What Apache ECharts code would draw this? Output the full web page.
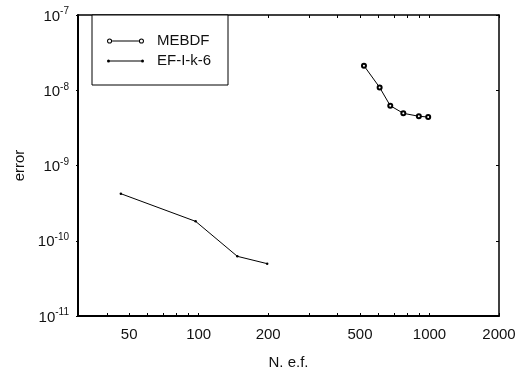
<!DOCTYPE html>
<html><head><meta charset="utf-8">
<script src="https://cdn.jsdelivr.net/npm/echarts@6/dist/echarts.min.js"></script>
<style>html,body{margin:0;padding:0;background:#fff}#c{width:515px;height:379px}</style>
</head><body><div id="c"></div>
<script>
const seriesNames = ['MEBDF', 'EF-I-k-6'];
const nefMEBDF = [520, 608, 676, 770, 899, 987];
const errMEBDF = [2.12e-8, 1.09e-8, 6.23e-9, 4.94e-9, 4.51e-9, 4.41e-9];
const nefEF = [46, 97, 147, 198];
const errEF = [4.22e-10, 1.81e-10, 6.21e-11, 4.96e-11];
const xLabelValues = [50, 100, 200, 500, 1000, 2000];
const xTickValues = [30, 40, 50, 60, 70, 80, 90, 100, 200, 300, 400, 500, 600, 700, 800, 900, 1000, 2000];
const xRange = [30, 2000];
const yRange = [1e-11, 1e-7];

const FONT = 'Liberation Sans';
const TXT = '#111';
const lg = v => Math.log10(v);
const chart = echarts.init(document.getElementById('c'), null, {renderer: 'canvas'});

const iconMEBDF = 'path://M0.5,3 A2.5,2.5 0 1,1 5.5,3 A2.5,2.5 0 1,1 0.5,3 Z M1.5,3 A1.5,1.5 0 1,0 4.5,3 A1.5,1.5 0 1,0 1.5,3 Z M5.5,2.5 L31.5,2.5 L31.5,3.5 L5.5,3.5 Z M31.5,3 A2.5,2.5 0 1,1 36.5,3 A2.5,2.5 0 1,1 31.5,3 Z M32.5,3 A1.5,1.5 0 1,0 35.5,3 A1.5,1.5 0 1,0 32.5,3 Z';
const iconEF = 'path://M0,3 A1.5,1.5 0 1,1 3,3 A1.5,1.5 0 1,1 0,3 Z M1.5,2.5 L35.5,2.5 L35.5,3.5 L1.5,3.5 Z M34,3 A1.5,1.5 0 1,1 37,3 A1.5,1.5 0 1,1 34,3 Z';

const axisLineBlack = w => ({show: true, onZero: false, lineStyle: {color: '#000', width: w}});

const option = {
  animation: false,
  backgroundColor: '#fff',
  grid: {left: 78, right: 16, top: 15, bottom: 63, containLabel: false, outerBoundsMode: 'none'},
  legend: {
    left: 92, top: 15, orient: 'vertical',
    padding: [18, 11, 16, 15], itemGap: 4, itemWidth: 37, itemHeight: 6,
    borderColor: '#000', borderWidth: 1, backgroundColor: '#fff',
    selectedMode: false,
    itemStyle: {color: '#000', borderWidth: 0},
    textStyle: {fontFamily: FONT, fontSize: 15, color: TXT, width: 60, lineHeight: 16, padding: [0, 0, 0, 8]},
    data: [{name: seriesNames[0], icon: iconMEBDF}, {name: seriesNames[1], icon: iconEF}]
  },
  xAxis: [
    {
      type: 'log', logBase: 10, min: xRange[0], max: xRange[1], position: 'bottom',
      axisLine: axisLineBlack(2), axisTick: {show: false}, axisLabel: {show: false},
      splitLine: {show: false}, minorTick: {show: false}, minorSplitLine: {show: false},
      name: 'N. e.f.', nameLocation: 'middle', nameGap: 39,
      nameTextStyle: {fontFamily: FONT, fontSize: 15, color: TXT}
    },
    {
      type: 'value', min: lg(xRange[0]), max: lg(xRange[1]), position: 'bottom',
      axisLine: {show: false, onZero: false}, splitLine: {show: false},
      axisTick: {show: true, inside: true, length: 3, customValues: xTickValues.map(lg), lineStyle: {color: '#000', width: 1}},
      axisLabel: {show: true, margin: 11, customValues: xLabelValues.map(lg),
        formatter: v => String(Math.round(Math.pow(10, v))),
        fontFamily: FONT, fontSize: 15, color: TXT}
    },
    {
      type: 'value', min: lg(xRange[0]), max: lg(xRange[1]), position: 'top',
      axisLine: axisLineBlack(1.5), splitLine: {show: false},
      axisTick: {show: true, inside: true, length: 3, customValues: xTickValues.map(lg), lineStyle: {color: '#000', width: 1}},
      axisLabel: {show: false}
    }
  ],
  yAxis: [
    {
      type: 'log', logBase: 10, min: yRange[0], max: yRange[1], position: 'left',
      axisLine: axisLineBlack(2), splitLine: {show: false}, minorTick: {show: false},
      axisTick: {show: true, inside: false, length: 2, lineStyle: {color: '#000', width: 1}},
      axisLabel: {
        margin: 9,
        formatter: v => '{b|10}{s|' + Math.round(Math.log10(v)) + '}',
        rich: {
          b: {fontFamily: FONT, fontSize: 15, color: TXT, lineHeight: 17, padding: [3, 0, 0, 0]},
          s: {fontFamily: FONT, fontSize: 10, color: TXT, verticalAlign: 'top', lineHeight: 10}
        }
      },
      name: 'error', nameLocation: 'middle', nameGap: 48, nameRotate: 90,
      nameTextStyle: {fontFamily: FONT, fontSize: 15, color: TXT}
    },
    {
      type: 'log', logBase: 10, min: yRange[0], max: yRange[1], position: 'right',
      axisLine: axisLineBlack(1.5), splitLine: {show: false}, minorTick: {show: false},
      axisTick: {show: true, inside: true, length: 3, lineStyle: {color: '#000', width: 1}},
      axisLabel: {show: false}
    }
  ],
  series: [
    {
      name: seriesNames[0], type: 'line', xAxisIndex: 0, yAxisIndex: 0,
      data: nefMEBDF.map((x, i) => [x, errMEBDF[i]]),
      symbol: 'emptyCircle', symbolSize: 4, showAllSymbol: true,
      lineStyle: {color: '#000', width: 1}, itemStyle: {color: '#000', borderColor: '#000', borderWidth: 0.9}
    },
    {
      name: seriesNames[1], type: 'line', xAxisIndex: 0, yAxisIndex: 0,
      data: nefEF.map((x, i) => [x, errEF[i]]),
      symbol: 'circle', symbolSize: 2.5, showAllSymbol: true,
      lineStyle: {color: '#000', width: 1}, itemStyle: {color: '#000'}
    }
  ]
};
chart.setOption(option);
</script></body></html>
